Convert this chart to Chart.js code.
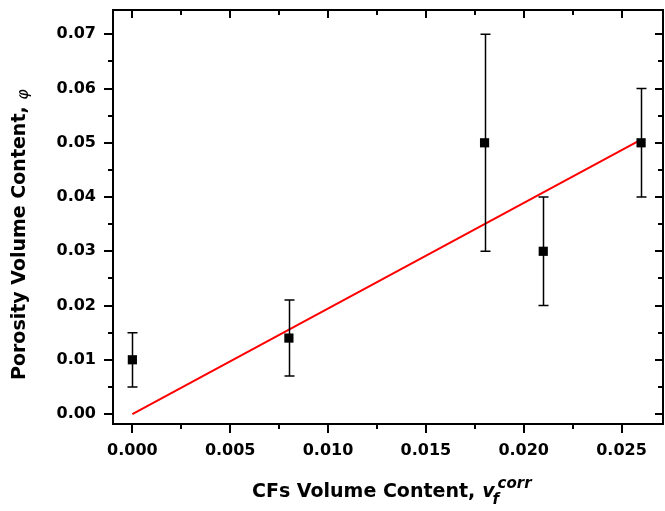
<!DOCTYPE html>
<html><head><meta charset="utf-8">
<script src="https://cdn.jsdelivr.net/npm/chart.js@4/dist/chart.umd.min.js"></script>
<style>html,body{margin:0;padding:0;background:#fff}#wrap{width:665px;height:511px}</style>
</head><body><div id="wrap"><canvas id="c" width="665" height="511"></canvas></div>
<script>
const xValues = [0, 0.008, 0.018, 0.021, 0.026];
const yValues = [0.010, 0.014, 0.050, 0.030, 0.050];
const yErrors = [0.005, 0.007, 0.020, 0.010, 0.010];
const fitX = [0, 0.026];
const fitY = [0, 0.0506];
const xTicks = [0, 0.005, 0.010, 0.015, 0.020, 0.025];
const xMinor = [0.0025, 0.0075, 0.0125, 0.0175, 0.0225];
const yTicks = [0, 0.01, 0.02, 0.03, 0.04, 0.05, 0.06, 0.07];
const yMinor = [0.005, 0.015, 0.025, 0.035, 0.045, 0.055, 0.065];
const xTitle = ['CFs Volume Content,', 'v', 'f', 'corr'];
const yTitle = ['Porosity Volume Content, ', 'φ'];

const FONT = '"DejaVu Sans", sans-serif';

const extras = {
  id: 'extras',
  afterDatasetsDraw(chart) {
    const ctx = chart.ctx, xs = chart.scales.x, ys = chart.scales.y;
    ctx.save();
    ctx.strokeStyle = '#000'; ctx.lineWidth = 1.5;
    for (let i = 0; i < xValues.length; i++) {
      const px = Math.round(xs.getPixelForValue(xValues[i])) + 0.5;
      const pt = ys.getPixelForValue(yValues[i] + yErrors[i]);
      const pb = ys.getPixelForValue(yValues[i] - yErrors[i]);
      ctx.beginPath();
      ctx.moveTo(px, pt); ctx.lineTo(px, pb);
      ctx.moveTo(px - 5, pt); ctx.lineTo(px + 5, pt);
      ctx.moveTo(px - 5, pb); ctx.lineTo(px + 5, pb);
      ctx.stroke();
    }
    ctx.restore();
  },
  afterDraw(chart) {
    const ctx = chart.ctx, xs = chart.scales.x, ys = chart.scales.y;
    const a = chart.chartArea;
    ctx.save();
    ctx.strokeStyle = '#000'; ctx.lineWidth = 2;
    ctx.strokeRect(a.left, a.top, a.right - a.left, a.bottom - a.top);
    ctx.beginPath();
    xTicks.forEach(v => { const p = Math.round(xs.getPixelForValue(v));
      ctx.moveTo(p, a.bottom); ctx.lineTo(p, a.bottom + 9);
      ctx.moveTo(p, a.top); ctx.lineTo(p, a.top + 8); });
    xMinor.forEach(v => { const p = Math.round(xs.getPixelForValue(v));
      ctx.moveTo(p, a.bottom); ctx.lineTo(p, a.bottom + 5);
      ctx.moveTo(p, a.top); ctx.lineTo(p, a.top + 5); });
    yTicks.forEach(v => { const p = Math.round(ys.getPixelForValue(v));
      ctx.moveTo(a.left, p); ctx.lineTo(a.left - 9, p);
      ctx.moveTo(a.right, p); ctx.lineTo(a.right - 8, p); });
    yMinor.forEach(v => { const p = Math.round(ys.getPixelForValue(v));
      ctx.moveTo(a.left, p); ctx.lineTo(a.left - 5, p);
      ctx.moveTo(a.right, p); ctx.lineTo(a.right - 5, p); });
    ctx.stroke();

    ctx.fillStyle = '#000';
    ctx.textBaseline = 'alphabetic';
    ctx.textAlign = 'left';
    let x0 = 252;
    const by = 497;
    ctx.font = 'bold 19px ' + FONT; ctx.fillText(xTitle[0], x0, by);
    x0 += ctx.measureText(xTitle[0]).width + 7;
    ctx.font = 'italic bold 19px ' + FONT; ctx.fillText(xTitle[1], x0, by);
    x0 += ctx.measureText(xTitle[1]).width;
    ctx.font = 'italic bold 15px ' + FONT;
    ctx.fillText(xTitle[2], x0 - 2, by + 7);
    ctx.fillText(xTitle[3], x0 + 3, by - 9);

    ctx.save();
    ctx.translate(25, 380);
    ctx.rotate(-Math.PI / 2);
    ctx.font = 'bold 19px ' + FONT;
    const yw0 = ctx.measureText(yTitle[0]).width;
    ctx.fillText(yTitle[0], 0, 0);
    ctx.font = 'italic 16px ' + FONT; ctx.fillText(yTitle[1], yw0, 3);
    ctx.restore();
    ctx.restore();
  }
};

new Chart(document.getElementById('c'), {
  type: 'scatter',
  data: {
    datasets: [
      {
        type: 'line',
        data: fitX.map((x, i) => ({ x, y: fitY[i] })),
        borderColor: '#ff0000', borderWidth: 2, pointRadius: 0, fill: false, order: 2
      },
      {
        data: xValues.map((x, i) => ({ x, y: yValues[i] })),
        pointStyle: 'rect', pointRadius: 6.5, backgroundColor: '#000', borderColor: '#000', borderWidth: 0, order: 1
      }
    ]
  },
  options: {
    responsive: false, animation: false,
    layout: { autoPadding: false, padding: { left: 0, right: 2, top: 0, bottom: 0 } },
    plugins: { legend: { display: false }, tooltip: { enabled: false } },
    scales: {
      x: {
        type: 'linear', min: -0.00099, max: 0.02712,
        afterBuildTicks: s => { s.ticks = xTicks.map(v => ({ value: v })); },
        afterFit: s => { s.height = 87; s.paddingLeft = 0; s.paddingRight = 0; },
        grid: { display: false, drawTicks: true, tickLength: 17 },
        border: { display: false },
        ticks: { padding: 0, color: '#000', font: { family: FONT, size: 16, weight: 'bold' },
          maxRotation: 0, autoSkip: false, callback: v => v.toFixed(3) }
      },
      y: {
        type: 'linear', min: -0.00184, max: 0.07448,
        afterBuildTicks: s => { s.ticks = yTicks.map(v => ({ value: v })); },
        afterFit: s => { s.width = 113; s.paddingTop = 10; s.paddingBottom = 0; },
        grid: { display: false, drawTicks: true, tickLength: 17 },
        border: { display: false },
        ticks: { padding: 0, color: '#000', font: { family: FONT, size: 16, weight: 'bold' },
          autoSkip: false, callback: v => v.toFixed(2) }
      }
    }
  },
  plugins: [extras]
});
</script></body></html>
